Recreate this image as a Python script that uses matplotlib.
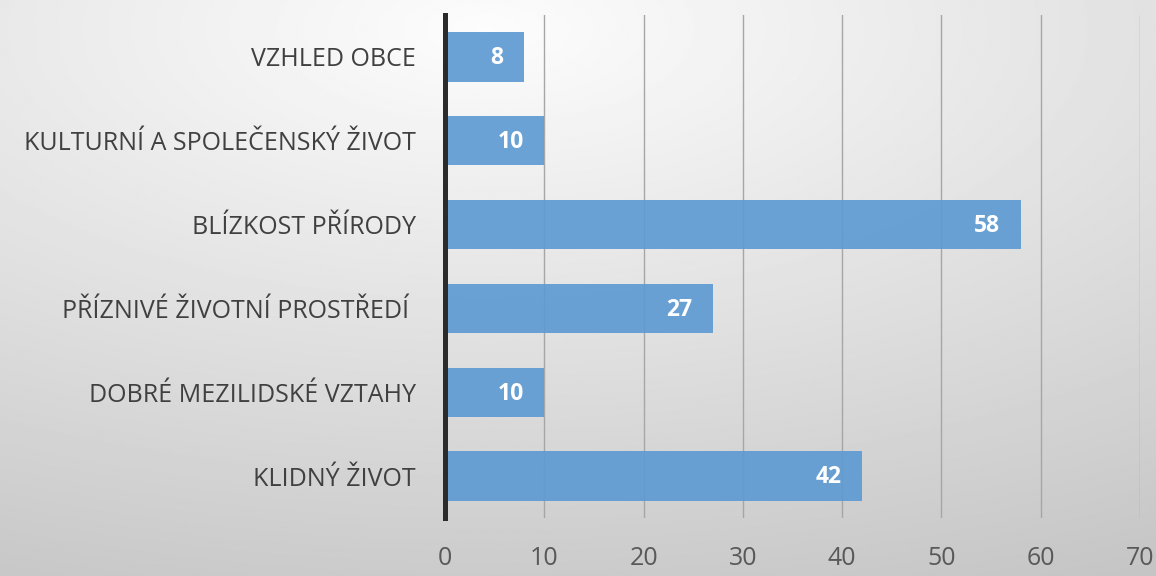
import numpy as np
import matplotlib.pyplot as plt

kategorie = ['KLIDNÝ ŽIVOT', 'DOBRÉ MEZILIDSKÉ VZTAHY', 'PŘÍZNIVÉ ŽIVOTNÍ PROSTŘEDÍ ',
             'BLÍZKOST PŘÍRODY', 'KULTURNÍ A SPOLEČENSKÝ ŽIVOT', 'VZHLED OBCE']
hodnoty = [42, 10, 27, 58, 10, 8]
x_ticks = [0, 10, 20, 30, 40, 50, 60, 70]

fig = plt.figure(figsize=(11.56, 5.76), dpi=100)

# pozadi s prechodem (svetle nahore uprostred, tmavsi k okrajum)
bg = fig.add_axes([0, 0, 1, 1], zorder=-1)
yy, xx = np.mgrid[0:1:300j, 0:1:600j]
d = np.sqrt(((xx - 0.42) / 1.0) ** 2 + ((yy - 0.05) / 0.9) ** 2)
bg.imshow(0.99 - 0.22 * np.clip(d, 0, 1.2) / 1.2, cmap='gray', vmin=0, vmax=1,
          aspect='auto', extent=[0, 1, 0, 1], origin='upper')
bg.axis('off')

ax = fig.add_axes([445 / 1156, 1 - 518 / 576, (1140 - 445) / 1156, (518 - 15) / 576])
ax.patch.set_alpha(0)

y = np.arange(len(kategorie))
bars = ax.barh(y, hodnoty, height=0.59, color='#5f9bd3', alpha=0.92, zorder=2)

for b, v in zip(bars, hodnoty):
    ax.annotate(str(v), (b.get_width(), b.get_y() + b.get_height() / 2),
                xytext=(-15, -1), textcoords='offset points', ha='right', va='center',
                color='white', fontsize=16.5, fontweight='bold', family='Open Sans')

ax.set_xlim(0, 70)
ax.set_ylim(-0.5, len(kategorie) - 0.5)
ax.set_xticks(x_ticks)
ax.set_yticks(y)
ax.set_yticklabels(kategorie, fontsize=18, color='#404040', family='Open Sans')
ax.tick_params(axis='x', length=0, pad=20, labelsize=18, labelcolor='#595959')
ax.tick_params(axis='y', length=0, pad=21)
for lbl in ax.get_xticklabels():
    lbl.set_family('Open Sans')

ax.grid(axis='x', color='#a6a6a6', linewidth=1, zorder=0)
for s in ['top', 'right', 'bottom']:
    ax.spines[s].set_visible(False)
ax.spines['left'].set_color('#2b2b2b')
ax.spines['left'].set_linewidth(3.6)
ax.spines['left'].set_zorder(3)

fig.savefig('out.png', dpi=100)
